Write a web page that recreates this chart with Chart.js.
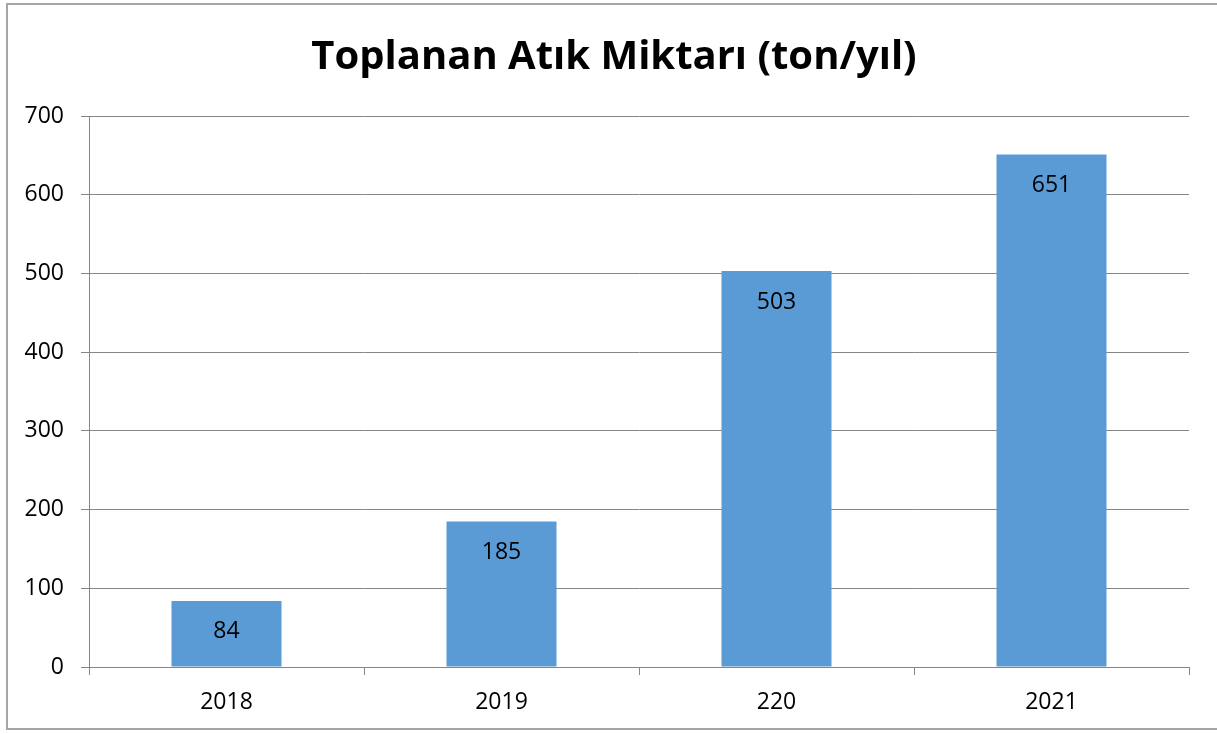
<!DOCTYPE html>
<html>
<head>
<meta charset="utf-8">
<script src="https://cdn.jsdelivr.net/npm/chart.js@4/dist/chart.umd.min.js"></script>
<style>
  body { margin: 0; background: #fff; }
  #wrap { position: relative; width: 1217px; height: 734px; overflow: hidden; }
  #frame { position: absolute; left: 6px; top: 3px; width: 1300px; height: 727px; border: 2px solid #a6a6a6; border-right: none; box-sizing: border-box; }
  canvas { position: absolute; left: 0; top: 0; }
</style>
</head>
<body>
<div id="wrap">
  <div id="frame"></div>
  <canvas id="myChart" width="1217" height="734"></canvas>
</div>
<script>
const titleText = 'Toplanan Atık Miktarı (ton/yıl)';
const years = ['2018', '2019', '220', '2021'];
const amounts = [84, 185, 503, 651];
const yTicks = [0, 100, 200, 300, 400, 500, 600, 700];

const fontFam = "'Open Sans', sans-serif";

// values written inside the top of each bar
const barValues = {
  id: 'barValues',
  afterDatasetsDraw(chart) {
    const ctx = chart.ctx;
    const meta = chart.getDatasetMeta(0);
    ctx.save();
    ctx.font = '23px ' + fontFam;
    ctx.fillStyle = '#000';
    ctx.textAlign = 'center';
    ctx.textBaseline = 'middle';
    meta.data.forEach((bar, i) => {
      ctx.fillText(String(amounts[i]), bar.x, bar.y + 31);
    });
    ctx.restore();
  }
};

// title sits a bit right of the canvas centre in the original, so draw it here
const chartTitle = {
  id: 'chartTitle',
  afterDraw(chart) {
    const ctx = chart.ctx;
    ctx.save();
    ctx.font = 'bold 40px ' + fontFam;
    ctx.fillStyle = '#000';
    ctx.textAlign = 'center';
    ctx.textBaseline = 'middle';
    ctx.fillText(titleText, 614, 58);
    ctx.restore();
  }
};

let ctx = document.getElementById('myChart').getContext('2d');
let myChart = new Chart(ctx, {
  type: 'bar',
  data: {
    labels: years,
    datasets: [{
      label: 'Toplanan Atık',
      backgroundColor: '#5b9bd5',
      data: amounts,
      barPercentage: 0.4,
      categoryPercentage: 1
    }]
  },
  options: {
    responsive: false,
    animation: false,
    layout: { padding: { left: 0, right: 28, top: 116, bottom: 0 } },
    plugins: {
      legend: { display: false },
      tooltip: { enabled: false },
      title: { display: false }
    },
    scales: {
      x: {
        grid: { offset: true, drawOnChartArea: false, tickLength: 8, color: '#868686' },
        border: { color: '#868686', width: 1 },
        ticks: { color: '#000', font: { family: fontFam, size: 23 }, padding: 14 },
        afterFit(scale) { scale.height = 67; }
      },
      y: {
        min: 0,
        max: 700,
        afterBuildTicks(scale) { scale.ticks = yTicks.map(v => ({ value: v })); },
        grid: { color: '#868686', tickLength: 8 },
        border: { color: '#868686', width: 1 },
        ticks: { color: '#000', font: { family: fontFam, size: 23 }, padding: 17 },
        afterFit(scale) { scale.width = 89; }
      }
    }
  },
  plugins: [barValues, chartTitle]
});
</script>
</body>
</html>
